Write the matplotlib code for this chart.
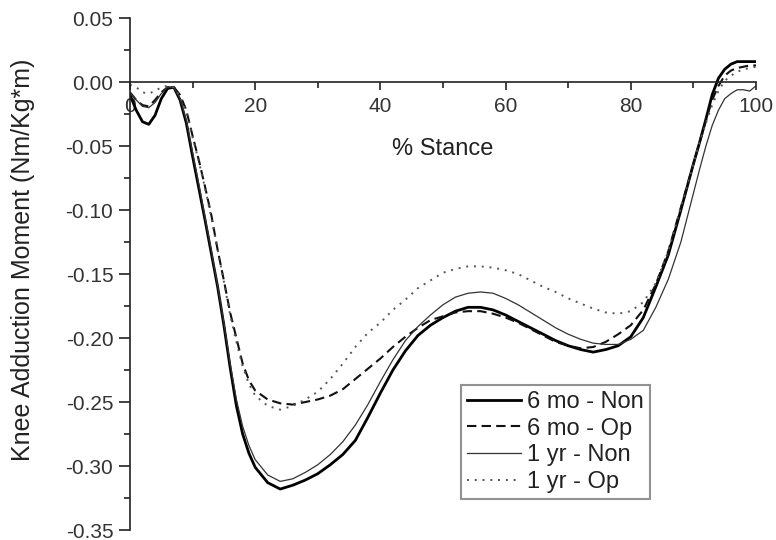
import numpy as np
import matplotlib
matplotlib.use("Agg")
from matplotlib import pyplot as plt
from matplotlib.ticker import MultipleLocator, FormatStrFormatter

plt.rcParams['font.family'] = ['Liberation Sans', 'DejaVu Sans']

# % stance sample points
stance = [0, 1, 2, 3, 4, 5, 6, 7, 8, 9, 10, 11, 12, 13, 14, 15, 16, 17, 18, 19, 20,
          22, 24, 26, 28, 30, 32, 34, 36, 38, 40, 42, 44, 46, 48, 50, 52, 54, 56, 58,
          60, 62, 64, 66, 68, 70, 72, 74, 76, 78, 80, 82, 84, 86, 88, 90, 91, 92, 93,
          94, 95, 96, 97, 98, 99, 100]

mo6_non = [-0.010, -0.022, -0.031, -0.033, -0.026, -0.013, -0.005, -0.004, -0.014, -0.032,
           -0.058, -0.083, -0.108, -0.134, -0.160, -0.190, -0.223, -0.253, -0.275, -0.290,
           -0.301, -0.313, -0.318, -0.315, -0.311, -0.306, -0.299, -0.291, -0.280, -0.262,
           -0.243, -0.225, -0.210, -0.198, -0.190, -0.184, -0.179, -0.176, -0.176, -0.178,
           -0.182, -0.187, -0.192, -0.197, -0.202, -0.206, -0.209, -0.211, -0.209, -0.206,
           -0.199, -0.184, -0.160, -0.135, -0.100, -0.064, -0.047, -0.029, -0.010, 0.003,
           0.010, 0.014, 0.016, 0.016, 0.016, 0.016]

mo6_op = [-0.008, -0.014, -0.018, -0.019, -0.014, -0.008, -0.004, -0.004, -0.010, -0.022,
          -0.042, -0.061, -0.082, -0.104, -0.131, -0.155, -0.180, -0.200, -0.220, -0.233,
          -0.241, -0.248, -0.251, -0.252, -0.250, -0.248, -0.245, -0.240, -0.232, -0.224,
          -0.216, -0.207, -0.199, -0.192, -0.186, -0.183, -0.180, -0.179, -0.179, -0.181,
          -0.184, -0.188, -0.193, -0.198, -0.203, -0.206, -0.208, -0.207, -0.203, -0.197,
          -0.190, -0.178, -0.158, -0.132, -0.098, -0.064, -0.047, -0.030, -0.014, -0.003,
          0.005, 0.009, 0.011, 0.012, 0.013, 0.013]

yr1_non = [-0.008, -0.014, -0.019, -0.020, -0.016, -0.009, -0.004, -0.004, -0.013, -0.030,
           -0.055, -0.080, -0.106, -0.132, -0.159, -0.188, -0.220, -0.248, -0.269, -0.284,
           -0.295, -0.307, -0.312, -0.310, -0.305, -0.299, -0.291, -0.281, -0.268, -0.252,
           -0.234, -0.217, -0.202, -0.191, -0.182, -0.174, -0.168, -0.165, -0.164, -0.165,
           -0.169, -0.174, -0.180, -0.186, -0.192, -0.197, -0.201, -0.204, -0.205, -0.205,
           -0.201, -0.194, -0.176, -0.154, -0.125, -0.087, -0.068, -0.050, -0.034, -0.022,
           -0.013, -0.009, -0.006, -0.006, -0.007, -0.003]

yr1_op = [-0.002, -0.004, -0.008, -0.009, -0.007, -0.004, -0.003, -0.004, -0.011, -0.024,
          -0.043, -0.062, -0.083, -0.106, -0.131, -0.156, -0.182, -0.203, -0.222, -0.236,
          -0.245, -0.253, -0.256, -0.253, -0.248, -0.242, -0.232, -0.220, -0.207, -0.196,
          -0.188, -0.178, -0.170, -0.161, -0.155, -0.149, -0.146, -0.144, -0.144, -0.145,
          -0.147, -0.150, -0.155, -0.160, -0.164, -0.169, -0.173, -0.177, -0.180, -0.181,
          -0.179, -0.172, -0.157, -0.132, -0.098, -0.064, -0.047, -0.032, -0.018, -0.007,
          0.001, 0.005, 0.008, 0.010, 0.011, 0.012]

fig = plt.figure(figsize=(7.76, 5.40), dpi=100)
ax = fig.add_axes([0.1675, 0.0185, 0.8067, 0.948])

ax.plot(stance, mo6_non, color='black', lw=2.0, label='6 mo - Non')
ax.plot(stance, mo6_op, color='#111111', lw=1.5, linestyle=(0, (4.5, 2.5)), label='6 mo - Op')
ax.plot(stance, yr1_non, color='#333333', lw=0.9, label='1 yr - Non')
ax.plot(stance, yr1_op, color='#555555', lw=1.4, linestyle=(0, (1, 3)), label='1 yr - Op')

ax.set_xlim(0, 100)
ax.set_ylim(-0.35, 0.05)

for s in ['top', 'right']:
    ax.spines[s].set_visible(False)
ax.spines['bottom'].set_position(('data', 0))
ax.spines['bottom'].set_linewidth(1.2)
ax.spines['left'].set_linewidth(1.2)
ax.spines['bottom'].set_color('#222222')
ax.spines['left'].set_color('#222222')

ax.xaxis.set_major_locator(MultipleLocator(20))
ax.xaxis.set_minor_locator(MultipleLocator(10))
ax.yaxis.set_major_locator(MultipleLocator(0.05))
ax.yaxis.set_minor_locator(MultipleLocator(0.025))
ax.yaxis.set_major_formatter(FormatStrFormatter('%.2f'))

ax.tick_params(which='major', direction='out', length=6, width=1.2, color='#222222',
               labelsize=15, labelcolor='#333333')
ax.tick_params(which='minor', direction='out', length=4, width=1.2, color='#222222')
ax.tick_params(axis='x', pad=5)
ax.tick_params(axis='y', which='major', length=8, pad=4)

ax.set_xlabel('% Stance', fontsize=17, color='#222222')
ax.xaxis.set_label_coords(0.5, 0.766)
ax.set_ylabel('Knee Adduction Moment (Nm/Kg*m)', fontsize=18, color='#222222')
ax.yaxis.set_label_coords(-0.152, 0.527)

leg = ax.legend(loc='lower left', bbox_to_anchor=(0.529, 0.0605), fontsize=17,
                frameon=True, fancybox=False, handlelength=2.3, handletextpad=0.25,
                labelspacing=0.2, borderpad=0.25, borderaxespad=0)
leg.get_frame().set_edgecolor('#777777')
leg.get_frame().set_linewidth(1.5)
for t in leg.get_texts():
    t.set_color('#222222')

plt.savefig('out.png', dpi=100)
